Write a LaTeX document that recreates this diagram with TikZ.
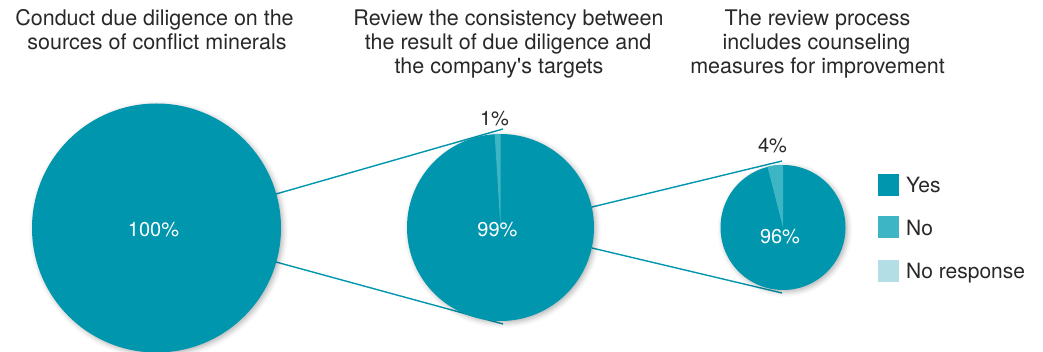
\documentclass[tikz,border=0pt]{standalone}
\usepackage{fontspec}
\setmainfont{TeX Gyre Heros}
\usetikzlibrary{shadows.blur}
\definecolor{yescol}{RGB}{0,150,173}
\definecolor{nocol}{RGB}{62,181,197}
\definecolor{nrcol}{RGB}{180,222,230}
\definecolor{txtcol}{RGB}{40,40,40}
\tikzset{
  piecircle/.style={circle, fill=yescol, draw=none, inner sep=0pt, minimum size=#1,
    blur shadow={shadow xshift=2pt, shadow yshift=-2pt, shadow blur radius=5pt, shadow opacity=30}},
  titleline/.style={anchor=base, inner sep=0pt, text=txtcol, font=\fontsize{21.5}{24.5}\selectfont},
  pctin/.style={anchor=base, inner sep=0pt, text=white, font=\fontsize{20}{22}\selectfont},
  pctout/.style={anchor=base, inner sep=0pt, text=txtcol, font=\fontsize{20}{22}\selectfont},
  legtext/.style={anchor=base west, inner sep=0pt, text=txtcol, font=\fontsize{21}{23}\selectfont},
  legbox/.style={draw=none, inner sep=0pt, minimum width=21pt, minimum height=22pt},
  zoomline/.style={draw=yescol, line width=1.4pt}
}
\begin{document}
\begin{tikzpicture}[x=1pt,y=-1pt]
\useasboundingbox (0,0) rectangle (1043,352);
% connector end points
\coordinate (a1) at (276,194);
\coordinate (b1) at (503,129);
\coordinate (a2) at (276,262);
\coordinate (b2) at (503,324);
\coordinate (a3) at (592,207);
\coordinate (b3) at (782,161);
\coordinate (a4) at (592,248);
\coordinate (b4) at (782,293);
\draw[zoomline] (a1) -- (b1);
\draw[zoomline] (a2) -- (b2);
\draw[zoomline] (a3) -- (b3);
\draw[zoomline] (a4) -- (b4);
% pies
\node[piecircle=249pt] (c1) at (156.5,228) {};
\node[piecircle=187pt] (c2) at (500.5,227.5) {};
\node[piecircle=125pt] (c3) at (783,227.5) {};
\fill[nocol] (c2.center) -- (c2.north) arc[start angle=90, end angle=93.6, radius=93.5pt] -- cycle;
\fill[nocol] (c3.center) -- (c3.north) arc[start angle=90, end angle=104.4, radius=62.5pt] -- cycle;
% percentages
\node[pctin] (p1) at (153.5,236.5) {100\%};
\node[pctin] (p2) at (497.5,236.5) {99\%};
\node[pctin] (p3) at (780,243.5) {96\%};
\node[pctout] (q2) at (494.5,126) {1\%};
\node[pctout] (q3) at (772.5,152.5) {4\%};
% titles
\node[titleline] (t1a) at (154.5,25.5) {Conduct due diligence on the};
\node[titleline] (t1b) at (157,49.5) {sources of conflict minerals};
\node[titleline] (t2a) at (508.5,25.5) {Review the consistency between};
\node[titleline] (t2b) at (508,49.5) {the result of due diligence and};
\node[titleline] (t2c) at (499,74) {the company\textquotesingle s targets};
\node[titleline] (t3a) at (817.5,25.5) {The review process};
\node[titleline] (t3b) at (816.5,49.5) {includes counseling};
\node[titleline] (t3c) at (817.5,74) {measures for improvement};
% legend
\node[legbox, fill=yescol] (k1) at (888.5,185) {};
\node[legbox, fill=nocol] (k2) at (888.5,227.5) {};
\node[legbox, fill=nrcol] (k3) at (888.5,271.5) {};
\node[legtext] (l1) at (906,193) {Yes};
\node[legtext] (l2) at (906,236) {No};
\node[legtext] (l3) at (906,279) {No response};
\end{tikzpicture}
\end{document}
